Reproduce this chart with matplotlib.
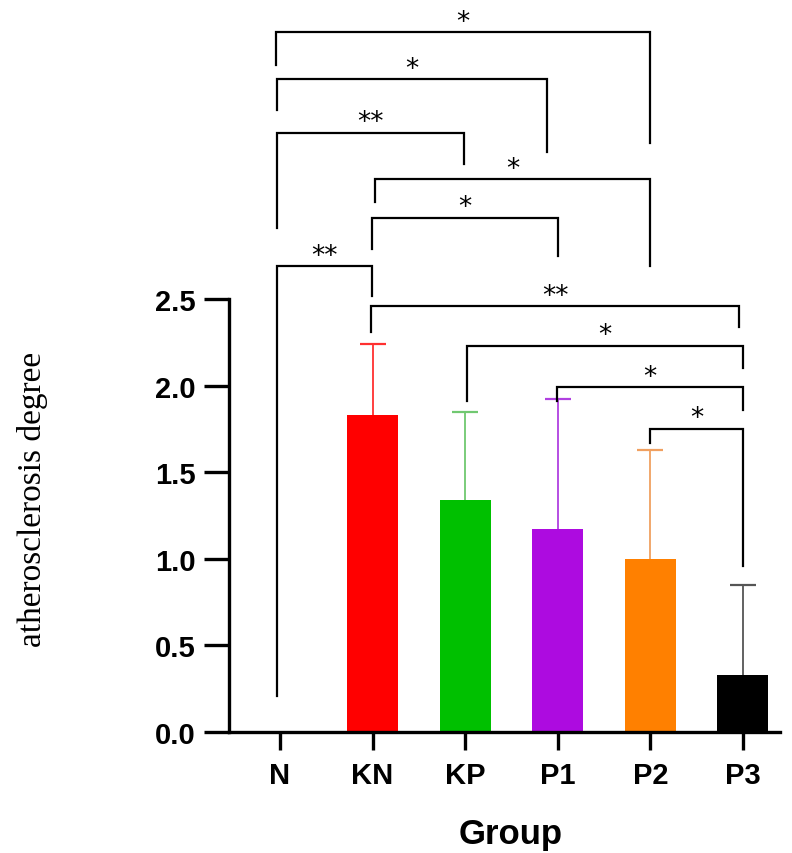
import matplotlib
matplotlib.use("Agg")
import matplotlib.pyplot as plt

# data
groups = ["N", "KN", "KP", "P1", "P2", "P3"]
means = [0.0, 1.83, 1.34, 1.17, 1.00, 0.33]
sd_upper = [0.0, 0.41, 0.51, 0.75, 0.63, 0.52]
bar_colors = ["#ffffff", "#ff0000", "#00c000", "#ad0be0", "#ff8000", "#000000"]
err_colors = ["#ffffff", "#ff3030", "#70c870", "#b040e0", "#f0a060", "#555555"]

# significance brackets: x left, x right, bar height, left leg end, right leg end, label
br_x1 = [-0.04, -0.03, -0.03, 1.03, 0.99, -0.03, 0.98, 2.02, 2.99, 4.0]
br_x2 = [4.0, 2.88, 1.99, 4.0, 3.0, 0.99, 4.96, 5.0, 5.0, 5.0]
br_y = [4.04, 3.77, 3.46, 3.19, 2.97, 2.69, 2.46, 2.23, 1.99, 1.75]
br_left = [3.85, 3.59, 2.91, 3.06, 2.79, 0.21, 2.31, 1.91, 1.91, 1.67]
br_right = [3.40, 3.35, 3.28, 2.69, 2.75, 2.52, 2.34, 2.10, 1.86, 0.96]
br_label = ["*", "*", "**", "*", "*", "**", "**", "*", "*", "*"]

fig = plt.figure(figsize=(7.92, 8.54), dpi=100)
ax = fig.add_axes([229 / 792, 1 - 733 / 854, 551 / 792, 433 / 854])

x = list(range(len(groups)))
ax.bar(x, means, width=0.55, color=bar_colors, zorder=2)

# upper-only error bars with a cap at the top
cap = 0.14
for i in x:
    if sd_upper[i] > 0:
        top = means[i] + sd_upper[i]
        ax.vlines(i, means[i], top, color=err_colors[i], lw=1.3, zorder=1)
        ax.hlines(top, i - cap, i + cap, color=err_colors[i], lw=1.6, zorder=1)

for x1, x2, y, yl, yr, lab in zip(br_x1, br_x2, br_y, br_left, br_right, br_label):
    ax.plot([x1, x1, x2, x2], [yl, y, y, yr], color="black", lw=1.6,
            clip_on=False, solid_joinstyle="miter", zorder=3)
    ax.text((x1 + x2) / 2, y - 0.015, lab, ha="center", va="bottom",
            fontsize=19, color="black", clip_on=False)

ax.set_xlim(-0.55, 5.4)
ax.set_ylim(0, 2.5)
ax.set_yticks([0, 0.5, 1.0, 1.5, 2.0, 2.5])
ax.set_yticklabels(["0.0", "0.5", "1.0", "1.5", "2.0", "2.5"])
ax.set_xticks(x)
ax.set_xticklabels(groups)

for s in ["top", "right"]:
    ax.spines[s].set_visible(False)
for s in ["left", "bottom"]:
    ax.spines[s].set_linewidth(2.4)

ax.tick_params(axis="y", length=18, width=2.4, pad=6)
ax.tick_params(axis="x", length=13, width=2.4, pad=8)
for lbl in ax.get_xticklabels() + ax.get_yticklabels():
    lbl.set_fontfamily("Liberation Sans")
    lbl.set_fontweight("bold")
    lbl.set_fontsize(21)

fig.text(511 / 792, 1 - 835 / 854, "Group", ha="center", va="center",
         fontsize=25, fontweight="bold", family="Liberation Sans")
fig.text(33 / 792, 1 - 499 / 854, "atherosclerosis degree", rotation=90,
         ha="center", va="center", fontsize=24, family="Liberation Serif")

fig.savefig("out.png", dpi=100, facecolor="white")
